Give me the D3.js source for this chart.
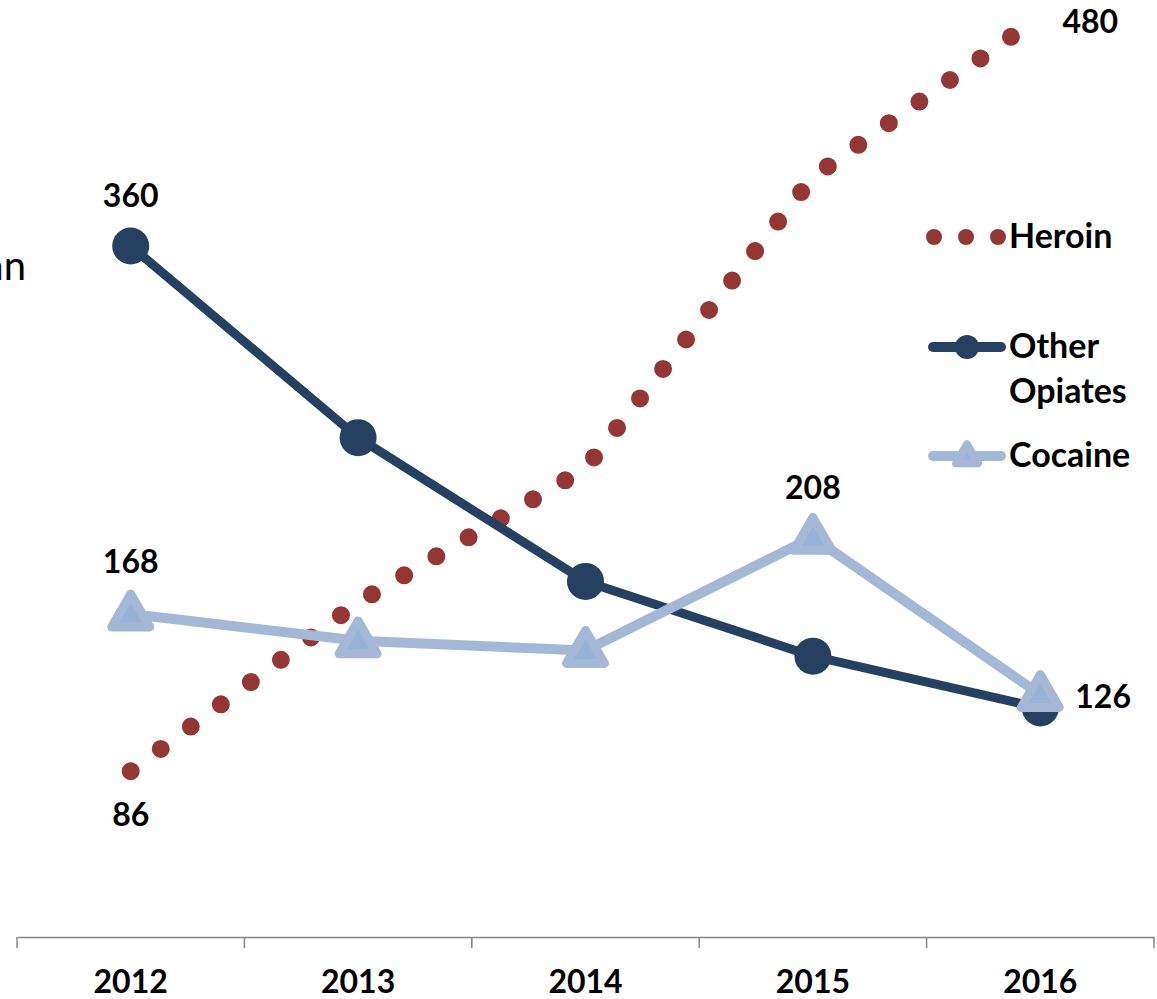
<!DOCTYPE html>
<html><head><meta charset="utf-8">
<script src="https://cdn.jsdelivr.net/npm/d3@7/dist/d3.min.js"></script>
<style>html,body{margin:0;padding:0;background:#fff;overflow:hidden}</style>
</head><body><svg id="c" width="1157" height="999"></svg>
<script>
const years = ["2012","2013","2014","2015","2016"];
const heroin = [86, 174, 244, 396, 480];
const otherOpiates = [360, 260, 185, 146, 119];
const cocaine = [168, 154, 149, 208, 126];
const seriesNames = ["Heroin","Other Opiates","Cocaine"];

const svg = d3.select("#c");
const FONT = "Lato, 'Open Sans', sans-serif";
const x = d3.scaleBand().domain(years).range([17,1154]).padding(0);
const y = d3.scaleLinear().domain([0,480]).range([936,16]);
const cx = d => x(d) + x.bandwidth()/2;

// axis
const ax = svg.append("g").attr("transform","translate(0,937)")
  .call(d3.axisBottom(x).tickSize(0).tickFormat(""));
ax.select(".domain").attr("stroke","#868686").attr("stroke-width",1.5);
const tickPos = years.map(d=>x(d)).concat([x.range()[1]]);
svg.selectAll(".tk").data(tickPos).join("line")
  .attr("x1",d=>d).attr("x2",d=>d).attr("y1",937).attr("y2",948)
  .attr("stroke","#868686").attr("stroke-width",1.5);
svg.selectAll(".yl").data(years).join("text")
  .attr("x",d=>cx(d)).attr("y",993).attr("text-anchor","middle")
  .attr("font-family",FONT).attr("font-weight","bold").attr("font-size",32)
  .text(d=>d);

// clipped axis title fragment
svg.append("text").attr("x",26).attr("y",280).attr("text-anchor","end")
  .attr("font-family",FONT).attr("font-size",40).attr("fill","#000").text("an");

const line = d3.line().x((d,i)=>cx(years[i])).y(d=>y(d));

// Heroin dotted
svg.append("path").datum(heroin).attr("d",line).attr("fill","none")
  .attr("stroke","#943634").attr("stroke-width",18).attr("stroke-linecap","round")
  .attr("stroke-dasharray","0 37.4");

// Other opiates
svg.append("path").datum(otherOpiates).attr("d",line).attr("fill","none")
  .attr("stroke","#254061").attr("stroke-width",9).attr("stroke-linejoin","round");
svg.selectAll(".oc").data(otherOpiates).join("circle")
  .attr("cx",(d,i)=>cx(years[i])).attr("cy",d=>y(d)).attr("r",18.5)
  .attr("fill","#254061");

// Cocaine
const triPath = (px,py,s) => {
  const h = s*Math.sqrt(3)/2;
  return `M${px},${py-h*2/3}L${px+s/2},${py+h/3}L${px-s/2},${py+h/3}Z`;
};
svg.append("path").datum(cocaine).attr("d",line).attr("fill","none")
  .attr("stroke","#a5b7d6").attr("stroke-width",10).attr("stroke-linejoin","round");
svg.selectAll(".ct").data(cocaine).join("path")
  .attr("d",(d,i)=>triPath(cx(years[i]), y(d)+2, 38))
  .attr("fill","#95b3d7").attr("stroke","#a5b7d6").attr("stroke-width",9)
  .attr("stroke-linejoin","round");

// data labels
const lbl = (t,xx,yy,anchor) => svg.append("text").attr("x",xx).attr("y",yy)
  .attr("text-anchor",anchor||"middle").attr("font-family",FONT)
  .attr("font-weight","bold").attr("font-size",32).text(t);
lbl(otherOpiates[0], cx(years[0]), y(otherOpiates[0])-39);
lbl(cocaine[0], cx(years[0]), y(cocaine[0])-41);
lbl(heroin[0], cx(years[0]), y(heroin[0])+55);
lbl(heroin[4], cx(years[4])+50, y(heroin[4])+17);
lbl(cocaine[3], cx(years[3]), y(cocaine[3])-38);
lbl(cocaine[4], cx(years[4])+35, y(cocaine[4])+13.5, "start");

// legend
const lg = svg.append("g");
lg.selectAll(".hd").data([934,966,998]).join("circle")
  .attr("cx",d=>d).attr("cy",237).attr("r",8).attr("fill","#943634");
lg.append("text").attr("x",1009).attr("y",248).attr("font-family",FONT)
  .attr("font-weight","bold").attr("font-size",34).text(seriesNames[0]);
lg.append("line").attr("x1",933).attr("x2",1001).attr("y1",347).attr("y2",347)
  .attr("stroke","#254061").attr("stroke-width",10).attr("stroke-linecap","round");
lg.append("circle").attr("cx",967).attr("cy",347).attr("r",12).attr("fill","#254061");
const t2 = lg.append("text").attr("font-family",FONT).attr("font-weight","bold").attr("font-size",34);
t2.append("tspan").attr("x",1009).attr("y",358).text("Other");
t2.append("tspan").attr("x",1009).attr("y",403).text("Opiates");
lg.append("line").attr("x1",933).attr("x2",1001).attr("y1",456).attr("y2",456)
  .attr("stroke","#a5b7d6").attr("stroke-width",10).attr("stroke-linecap","round");
lg.append("path").attr("d",triPath(967,457,22)).attr("fill","#95b3d7")
  .attr("stroke","#a5b7d6").attr("stroke-width",8).attr("stroke-linejoin","round");
lg.append("text").attr("x",1009).attr("y",467).attr("font-family",FONT)
  .attr("font-weight","bold").attr("font-size",34).text(seriesNames[2]);
</script></body></html>
